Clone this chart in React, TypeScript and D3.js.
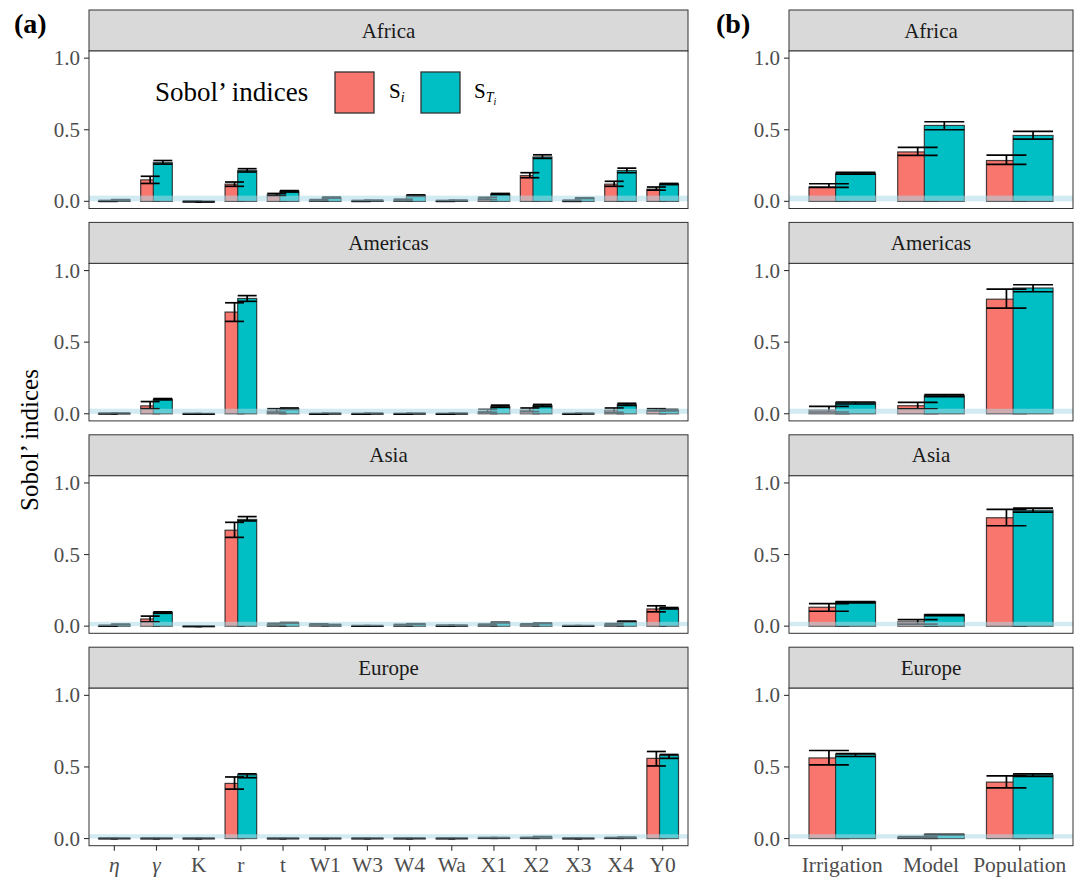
import React from "react";
import * as d3 from "d3";

// ---------- data ----------
const regions = ["Africa", "Americas", "Asia", "Europe"];
const params = ["η", "γ", "K", "r", "t", "W1", "W3", "W4", "Wa", "X1", "X2", "X3", "X4", "Y0"];
const drivers = ["Irrigation", "Model", "Population"];
const yTicks = [0, 0.5, 1.0];

// panel (a): first-order (Si) and total (STi) indices per region
const siA = [
  [0.003, 0.15, 0.0, 0.12, 0.045, 0.008, 0.003, 0.01, 0.003, 0.02, 0.18, 0.005, 0.12, 0.085],
  [0.002, 0.055, 0.0, 0.71, 0.02, 0.0, 0.0, 0.0, 0.0, 0.015, 0.025, 0.0, 0.025, 0.025],
  [0.003, 0.05, 0.0, 0.67, 0.012, 0.012, 0.002, 0.008, 0.004, 0.01, 0.012, 0.002, 0.012, 0.12],
  [0.002, 0.002, 0.002, 0.385, 0.002, 0.002, 0.002, 0.002, 0.002, 0.005, 0.006, 0.002, 0.005, 0.56],
];
const siLowA = [
  [0.0, 0.125, -0.003, 0.105, 0.04, 0.005, 0.0, 0.005, 0.0, 0.012, 0.165, 0.0, 0.105, 0.078],
  [0.0, 0.035, -0.002, 0.645, 0.01, -0.002, -0.002, -0.002, -0.002, 0.01, 0.015, -0.002, 0.01, 0.02],
  [0.0, 0.03, -0.002, 0.62, 0.005, 0.008, 0.0, 0.004, 0.001, 0.006, 0.008, 0.0, 0.006, 0.1],
  [0.0, 0.0, 0.0, 0.345, 0.0, 0.0, 0.0, 0.0, 0.0, 0.003, 0.004, 0.0, 0.003, 0.507],
];
const siHighA = [
  [0.006, 0.175, 0.003, 0.135, 0.055, 0.012, 0.006, 0.015, 0.006, 0.028, 0.2, 0.008, 0.14, 0.1],
  [0.004, 0.085, 0.002, 0.775, 0.035, 0.002, 0.002, 0.002, 0.002, 0.03, 0.04, 0.002, 0.04, 0.035],
  [0.006, 0.07, 0.002, 0.725, 0.02, 0.016, 0.004, 0.012, 0.007, 0.014, 0.016, 0.004, 0.018, 0.142],
  [0.004, 0.004, 0.004, 0.43, 0.004, 0.004, 0.004, 0.004, 0.004, 0.007, 0.008, 0.004, 0.007, 0.608],
];
const stiA = [
  [0.01, 0.27, -0.002, 0.215, 0.07, 0.025, 0.006, 0.04, 0.006, 0.05, 0.31, 0.022, 0.215, 0.12],
  [0.003, 0.1, 0.0, 0.805, 0.035, 0.002, 0.002, 0.002, 0.002, 0.05, 0.058, 0.002, 0.065, 0.022],
  [0.012, 0.095, 0.0, 0.745, 0.022, 0.01, 0.003, 0.015, 0.005, 0.025, 0.02, 0.003, 0.032, 0.125],
  [0.002, 0.002, 0.002, 0.445, 0.002, 0.002, 0.002, 0.002, 0.002, 0.006, 0.012, 0.002, 0.008, 0.58],
];
const stiLowA = [
  [0.008, 0.26, -0.004, 0.205, 0.065, 0.022, 0.005, 0.035, 0.005, 0.047, 0.3, 0.02, 0.2, 0.117],
  [0.002, 0.097, -0.001, 0.785, 0.03, 0.001, 0.001, 0.001, 0.001, 0.045, 0.05, 0.001, 0.058, 0.02],
  [0.01, 0.09, -0.001, 0.735, 0.02, 0.008, 0.002, 0.013, 0.004, 0.023, 0.018, 0.002, 0.03, 0.12],
  [0.001, 0.001, 0.001, 0.425, 0.001, 0.001, 0.001, 0.001, 0.001, 0.005, 0.01, 0.001, 0.007, 0.56],
];
const stiHighA = [
  [0.012, 0.285, 0.0, 0.228, 0.075, 0.03, 0.008, 0.045, 0.008, 0.055, 0.325, 0.025, 0.232, 0.125],
  [0.004, 0.106, 0.001, 0.825, 0.04, 0.003, 0.003, 0.003, 0.003, 0.06, 0.065, 0.003, 0.073, 0.03],
  [0.014, 0.1, 0.001, 0.765, 0.025, 0.012, 0.004, 0.017, 0.006, 0.027, 0.022, 0.004, 0.035, 0.13],
  [0.003, 0.003, 0.003, 0.452, 0.003, 0.003, 0.003, 0.003, 0.003, 0.007, 0.014, 0.003, 0.009, 0.587],
];

// panel (b)
const siB = [
  [0.1, 0.345, 0.285],
  [0.026, 0.056, 0.8],
  [0.132, 0.03, 0.757],
  [0.563, 0.009, 0.394],
];
const siLowB = [
  [0.098, 0.321, 0.258],
  [0.012, 0.035, 0.737],
  [0.104, 0.014, 0.701],
  [0.514, 0.005, 0.354],
];
const siHighB = [
  [0.123, 0.377, 0.323],
  [0.052, 0.08, 0.871],
  [0.157, 0.046, 0.815],
  [0.615, 0.013, 0.437],
];
const stiB = [
  [0.193, 0.53, 0.46],
  [0.077, 0.127, 0.878],
  [0.169, 0.079, 0.81],
  [0.587, 0.028, 0.444],
];
const stiLowB = [
  [0.19, 0.5, 0.435],
  [0.068, 0.12, 0.852],
  [0.162, 0.074, 0.796],
  [0.573, 0.026, 0.434],
];
const stiHighB = [
  [0.202, 0.556, 0.488],
  [0.082, 0.134, 0.901],
  [0.171, 0.081, 0.824],
  [0.594, 0.03, 0.451],
];
// dummy-parameter band upper limit per region
const dummyBand = [0.04, 0.035, 0.03, 0.03];

// ---------- style ----------
const RED = "#F8766D";
const TEAL = "#00BFC4";
const FONT = "Liberation Serif, DejaVu Serif, serif";
const W = 1086;
const H = 879;
const stripTop0 = 10;
const rowStep = 212.4;
const stripH = 41;
const panelH = 157.5;
const panelA = [89, 688];
const panelB = [789, 1073];

type PanelProps = {
  x0: number;
  x1: number;
  row: number;
  cats: string[];
  si: number[];
  siLo: number[];
  siHi: number[];
  sti: number[];
  stiLo: number[];
  stiHi: number[];
  band: number;
  showX: boolean;
  region: string;
};

function Panel(p: PanelProps) {
  const sTop = stripTop0 + p.row * rowStep;
  const pTop = sTop + stripH;
  const pBot = pTop + panelH;
  const y = d3.scaleLinear().domain([-0.05, 1.05]).range([pBot, pTop]);
  const x = d3.scalePoint<string>().domain(p.cats).range([p.x0, p.x1]).padding(0.6);
  const step = x.step();
  const bw = 0.45 * step;
  const off = 0.15 * step;
  const series = [
    { v: p.si, lo: p.siLo, hi: p.siHi, fill: RED, dx: -off },
    { v: p.sti, lo: p.stiLo, hi: p.stiHi, fill: TEAL, dx: off },
  ];
  return (
    <g>
      <rect x={p.x0} y={sTop} width={p.x1 - p.x0} height={stripH} fill="#d9d9d9" stroke="#333" strokeWidth={1} />
      <text x={(p.x0 + p.x1) / 2} y={sTop + stripH / 2 + 7} textAnchor="middle" fontFamily={FONT} fontSize={21} fill="#1a1a1a">
        {p.region}
      </text>
      <rect x={p.x0} y={pTop} width={p.x1 - p.x0} height={panelH} fill="#fff" />
      {p.cats.map((c, i) => (
        <g key={c}>
          {series.map((s, k) => {
            const cx = (x(c) as number) + s.dx;
            const v = s.v[i];
            const yv = y(v);
            const y0 = y(0);
            return (
              <rect key={k} x={cx - bw / 2} y={Math.min(yv, y0)} width={bw} height={Math.max(Math.abs(y0 - yv), 0.5)}
                fill={s.fill} stroke="#222" strokeOpacity={0.85} strokeWidth={1.2} />
            );
          })}
        </g>
      ))}
      {p.cats.map((c, i) => (
        <g key={"e" + c}>
          {series.map((s, k) => {
            const cx = (x(c) as number) + s.dx;
            const yl = y(s.lo[i]);
            const yh = y(s.hi[i]);
            return (
              <g key={k} stroke="#000" strokeWidth={1.7}>
                <line x1={cx} x2={cx} y1={yl} y2={yh} />
                <line x1={cx - bw / 2} x2={cx + bw / 2} y1={yl} y2={yl} />
                <line x1={cx - bw / 2} x2={cx + bw / 2} y1={yh} y2={yh} />
              </g>
            );
          })}
        </g>
      ))}
      <rect x={p.x0} y={y(p.band)} width={p.x1 - p.x0} height={y(0) - y(p.band)} fill="#add8e6" fillOpacity={0.55} />
      <rect x={p.x0} y={pTop} width={p.x1 - p.x0} height={panelH} fill="none" stroke="#333" strokeWidth={1} />
      {yTicks.map((t) => (
        <g key={t}>
          <line x1={p.x0 - 5} x2={p.x0} y1={y(t)} y2={y(t)} stroke="#333" strokeWidth={1.1} />
          <text x={p.x0 - 9} y={y(t) + 7} textAnchor="end" fontFamily={FONT} fontSize={21} fill="#4d4d4d">
            {d3.format(".1f")(t)}
          </text>
        </g>
      ))}
      {p.showX &&
        p.cats.map((c) => (
          <g key={"x" + c}>
            <line x1={x(c)} x2={x(c)} y1={pBot} y2={pBot + 5} stroke="#333" strokeWidth={1.1} />
            <text x={x(c)} y={pBot + 26} textAnchor="middle" fontFamily={FONT} fontSize={21.5}
              fontStyle={c === "η" || c === "γ" ? "italic" : "normal"} fill="#4d4d4d">
              {c}
            </text>
          </g>
        ))}
    </g>
  );
}

export default function App() {
  return (
    <svg width={W} height={H} style={{ position: "absolute", left: 0, top: 0, background: "#fff" }}>
      <rect x={0} y={0} width={W} height={H} fill="#fff" />
      {regions.map((r, i) => (
        <Panel key={"a" + r} x0={panelA[0]} x1={panelA[1]} row={i} cats={params}
          si={siA[i]} siLo={siLowA[i]} siHi={siHighA[i]} sti={stiA[i]} stiLo={stiLowA[i]} stiHi={stiHighA[i]}
          band={dummyBand[i]} showX={i === regions.length - 1} region={r} />
      ))}
      {regions.map((r, i) => (
        <Panel key={"b" + r} x0={panelB[0]} x1={panelB[1]} row={i} cats={drivers}
          si={siB[i]} siLo={siLowB[i]} siHi={siHighB[i]} sti={stiB[i]} stiLo={stiLowB[i]} stiHi={stiHighB[i]}
          band={dummyBand[i]} showX={i === regions.length - 1} region={r} />
      ))}
      {/* panel tags */}
      <text x={14} y={33} fontFamily={FONT} fontWeight="bold" fontSize={28} fill="#000">(a)</text>
      <text x={716} y={33} fontFamily={FONT} fontWeight="bold" fontSize={28} fill="#000">(b)</text>
      {/* y title */}
      <text transform="translate(38,440) rotate(-90)" textAnchor="middle" fontFamily={FONT} fontSize={25} fill="#000">
        Sobol’ indices
      </text>
      {/* legend */}
      <g>
        <text x={155} y={101} fontFamily={FONT} fontSize={27} fill="#000">Sobol’ indices</text>
        <rect x={335} y={72} width={39} height={41} fill={RED} stroke="#333" strokeWidth={1.3} />
        <text x={389} y={98} fontFamily={FONT} fontSize={21} fill="#000">
          S<tspan fontStyle="italic" fontSize={14} dy={4}>i</tspan>
        </text>
        <rect x={421} y={72} width={39} height={41} fill={TEAL} stroke="#333" strokeWidth={1.3} />
        <text x={474} y={98} fontFamily={FONT} fontSize={21} fill="#000">
          S<tspan fontStyle="italic" fontSize={14} dy={4}>T</tspan>
          <tspan fontStyle="italic" fontSize={10} dy={3}>i</tspan>
        </text>
      </g>
    </svg>
  );
}
